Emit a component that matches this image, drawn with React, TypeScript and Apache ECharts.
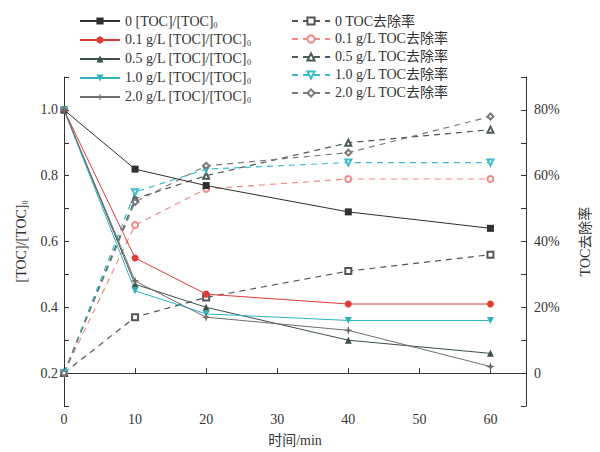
import React, { useEffect, useRef } from "react";
import * as echarts from "echarts";

const times = [0, 10, 20, 40, 60];
const doseLabels = ["0", "0.1 g/L", "0.5 g/L", "1.0 g/L", "2.0 g/L"];

const toc0 = [1.0, 0.82, 0.77, 0.69, 0.64];
const toc01 = [1.0, 0.55, 0.44, 0.41, 0.41];
const toc05 = [1.0, 0.47, 0.40, 0.30, 0.26];
const toc10 = [1.0, 0.45, 0.38, 0.36, 0.36];
const toc20 = [1.0, 0.48, 0.37, 0.33, 0.22];

const rem0 = [0, 17, 23, 31, 36];
const rem01 = [0, 45, 56, 59, 59];
const rem05 = [0, 53, 60, 70, 74];
const rem10 = [0, 55, 62, 64, 64];
const rem20 = [0, 52, 63, 67, 78];

const xTicks = [0, 10, 20, 30, 40, 50, 60];

const FONT = '"Liberation Serif", "Noto Sans CJK SC", serif';
const colors = ["#2f2f2f", "#e23b35", "#3c4f4a", "#2fb4c2", "#6e6e6e"];
const dashColors = ["#555555", "#ef8a86", "#4a5a56", "#3bbccb", "#7a7a7a"];

const STAR = "path://M0,-10 L2.5,-2.5 L10,0 L2.5,2.5 L0,10 L-2.5,2.5 L-10,0 L-2.5,-2.5 Z";

export default function App() {
  const ref = useRef<HTMLDivElement>(null);
  useEffect(() => {
    if (!ref.current) return;
    const chart = echarts.init(ref.current, null, { renderer: "svg" });
    const tocs = [toc0, toc01, toc05, toc10, toc20];
    const rems = [rem0, rem01, rem05, rem10, rem20];
    const solidSymbols = ["rect", "circle", "triangle", "triangle", STAR];
    const solidRot = [0, 0, 0, 180, 0];
    const dashSymbols = ["emptyRect", "emptyCircle", "emptyTriangle", "emptyTriangle", "emptyDiamond"];
    const solidNames = doseLabels.map((d) => d + " [TOC]/[TOC]0");
    const dashNames = doseLabels.map((d) => d + " TOC去除率");

    const series: any[] = [];
    tocs.forEach((arr, i) => {
      series.push({
        name: solidNames[i],
        type: "line",
        yAxisIndex: 0,
        data: times.map((t, k) => [t, arr[k]]),
        symbol: solidSymbols[i],
        symbolRotate: solidRot[i],
        symbolSize: i === 4 ? 9 : 7,
        lineStyle: { color: colors[i], width: 1 },
        itemStyle: { color: colors[i] },
        z: 3,
      });
    });
    rems.forEach((arr, i) => {
      series.push({
        name: dashNames[i],
        type: "line",
        yAxisIndex: 1,
        data: times.map((t, k) => [t, arr[k]]),
        symbol: dashSymbols[i],
        symbolRotate: solidRot[i],
        symbolSize: 6,
        lineStyle: { color: dashColors[i], width: 1.2, type: [6, 5] },
        itemStyle: { color: dashColors[i], borderColor: dashColors[i] },
        z: 2,
      });
    });

    const legendText = {
      fontFamily: FONT,
      fontSize: 14,
      color: "#333",
      rich: {
        a: { fontFamily: FONT, fontSize: 14, color: "#333" },
        s: { fontFamily: FONT, fontSize: 8, color: "#333", padding: [8, 0, 0, 0] },
      },
    };

    chart.setOption({
      animation: false,
      backgroundColor: "#ffffff",
      textStyle: { fontFamily: FONT },
      legend: [
        {
          data: solidNames,
          orient: "vertical",
          left: 74,
          top: 9,
          itemWidth: 40,
          itemHeight: 9,
          itemGap: 4,
          textStyle: legendText,
          formatter: (n: string) => "{a|" + n.slice(0, -1) + "}{s|0}",
        },
        {
          data: dashNames,
          orient: "vertical",
          left: 286,
          top: 9,
          itemWidth: 38,
          itemHeight: 9,
          itemGap: 4,
          textStyle: legendText,
        },
      ],
      grid: { left: 64, right: 66, top: 77, bottom: 45, containLabel: false },
      xAxis: {
        type: "value",
        min: 0,
        max: 65,
        interval: 10,
        name: "时间/min",
        nameLocation: "middle",
        nameGap: 27,
        nameTextStyle: { fontFamily: FONT, fontSize: 14, color: "#333" },
        axisLine: { lineStyle: { color: "#333", width: 1 } },
        axisTick: { inside: true, length: 5, lineStyle: { color: "#333" } },
        splitLine: { show: false },
        axisLabel: {
          fontFamily: FONT,
          fontSize: 14,
          color: "#333",
          margin: 6,
          formatter: (v: number) => (xTicks.indexOf(v) >= 0 ? String(v) : ""),
        },
      },
      yAxis: [
        {
          type: "value",
          min: 0.1,
          max: 1.1,
          interval: 0.1,
          name: "{a|[TOC]/[TOC]}{s|0}",
          nameLocation: "middle",
          nameRotate: 90,
          nameGap: 34,
          nameTextStyle: {
            fontFamily: FONT,
            fontSize: 14,
            color: "#333",
            rich: {
              a: { fontFamily: FONT, fontSize: 14, color: "#333" },
              s: { fontFamily: FONT, fontSize: 8, color: "#333", padding: [8, 0, 0, 0] },
            },
          },
          axisLine: { show: true, lineStyle: { color: "#333", width: 1 } },
          axisTick: { show: true, inside: true, length: 5, lineStyle: { color: "#333" } },
          splitLine: { show: false },
          axisLabel: {
            fontFamily: FONT,
            fontSize: 14,
            color: "#333",
            margin: 6,
            formatter: (v: number) => {
              const k = Math.round(v * 10);
              return k % 2 === 0 && k >= 2 && k <= 10 ? (k / 10).toFixed(1) : "";
            },
          },
        },
        {
          type: "value",
          min: -10,
          max: 90,
          interval: 10,
          position: "right",
          name: "TOC去除率",
          nameLocation: "middle",
          nameRotate: 90,
          nameGap: 52,
          nameTextStyle: { fontFamily: FONT, fontSize: 14, color: "#333" },
          axisLine: { show: true, lineStyle: { color: "#333", width: 1 } },
          axisTick: { show: true, inside: true, length: 5, lineStyle: { color: "#333" } },
          splitLine: { show: false },
          axisLabel: {
            fontFamily: FONT,
            fontSize: 14,
            color: "#333",
            margin: 8,
            formatter: (v: number) => {
              const k = Math.round(v);
              if (k < 0 || k > 80 || k % 20 !== 0) return "";
              return k === 0 ? "0" : k + "%";
            },
          },
        },
      ],
      series,
    });
    return () => chart.dispose();
  }, []);
  return (
    <div
      ref={ref}
      style={{ position: "fixed", left: 0, top: 0, width: 600, height: 452, background: "#fff" }}
    />
  );
}
